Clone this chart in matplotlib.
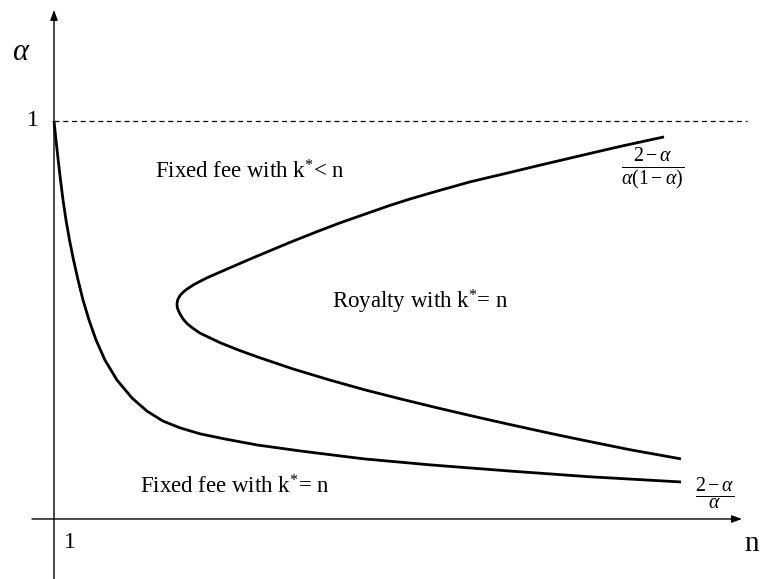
import matplotlib.pyplot as plt

plt.rcParams['mathtext.fontset'] = 'custom'
plt.rcParams['mathtext.rm'] = 'Liberation Serif'
plt.rcParams['mathtext.it'] = 'Liberation Serif:italic'
plt.rcParams['mathtext.cal'] = 'Liberation Serif'

# boundary n = (2 - a)/a  (lower curve, starts at n=1, alpha=1)
n_low = [1.0, 1.08, 1.168, 1.26, 1.36, 1.48, 1.62, 1.78, 1.96, 2.16, 2.4, 2.68,
         3.04, 3.52, 4.12, 4.72, 5.36, 6.04, 6.84, 7.84, 9.12, 10.84, 13.4,
         16.04, 19.12, 22.44, 26.08]
a_low = [1.0, 0.952, 0.902, 0.852, 0.802, 0.751, 0.701, 0.651, 0.601, 0.550,
         0.500, 0.450, 0.399, 0.349, 0.304, 0.271, 0.246, 0.229, 0.214, 0.201,
         0.186, 0.171, 0.151, 0.136, 0.121, 0.106, 0.093]

# boundary n = (2 - a)/(a(1 - a))  (the C-shaped curve, top end first)
n_up = [25.4, 23.64, 22.0, 20.44, 19.12, 17.64, 16.28, 15.24, 14.44, 13.44,
        12.44, 11.44, 10.44, 9.64, 8.84, 7.96, 7.12, 6.84, 6.6, 6.4, 6.24,
        6.12, 6.04, 5.98, 5.94, 5.92,
        5.932, 5.98, 6.06, 6.18, 6.34, 6.56, 6.84, 7.24, 7.68, 8.44, 9.24,
        10.56, 12.04, 13.4, 14.84, 16.28, 17.64, 19.12, 20.64, 22.0, 24.04,
        26.08]
a_up = [0.960, 0.936, 0.912, 0.889, 0.869, 0.847, 0.823, 0.804, 0.788, 0.766,
        0.744, 0.720, 0.695, 0.674, 0.653, 0.629, 0.606, 0.597, 0.589, 0.581,
        0.574, 0.567, 0.561, 0.555, 0.549, 0.540,
        0.531, 0.523, 0.513, 0.501, 0.490, 0.479, 0.467, 0.455, 0.442, 0.423,
        0.405, 0.377, 0.349, 0.325, 0.302, 0.280, 0.260, 0.239, 0.218, 0.200,
        0.174, 0.151]

fig = plt.figure(figsize=(7.61, 5.79), dpi=100)
ax = fig.add_axes([0, 0, 1, 1])
ax.set_xlim(-1.16, 29.28)
ax.set_ylim(-0.1508, 1.304)
ax.axis('off')

serif = 'Liberation Serif'

# axes with arrow heads
arr = dict(arrowstyle='-|>,head_length=0.6,head_width=0.22', lw=1.0,
           color='black', shrinkA=0, shrinkB=0, mutation_scale=10)
ax.annotate('', xy=(28.52, 0), xytext=(0.12, 0), arrowprops=arr)
ax.annotate('', xy=(1, 1.279), xytext=(1, -0.16), arrowprops=arr)

# alpha = 1 reference line
ax.plot([1, 28.72], [1, 1], color='black', lw=0.9, ls=(0, (4, 3)))

ax.plot(n_low, a_low, color='black', lw=2.0, solid_capstyle='butt',
        solid_joinstyle='round')
ax.plot(n_up, a_up, color='black', lw=2.0, solid_capstyle='butt',
        solid_joinstyle='round')

ax.text(0.16, 1.0, '1', family=serif, fontsize=17, ha='center', va='center')
ax.text(1.64, -0.06, '1', family=serif, fontsize=17, ha='center', va='center')
ax.text(28.9, -0.062, 'n', family=serif, fontsize=21, ha='center', va='center')
ax.text(-0.32, 1.175, r'$\alpha$', fontsize=22, ha='center', va='center')

ax.text(5.04, 0.872, r'Fixed fee with k$^{*}$< n', family=serif, fontsize=16.5,
        ha='left', va='center')
ax.text(12.12, 0.545, r'Royalty with k$^{*}$= n', family=serif, fontsize=16.5,
        ha='left', va='center')
ax.text(4.44, 0.08, r'Fixed fee with k$^{*}$= n', family=serif, fontsize=16.5,
        ha='left', va='center')

ax.text(24.96, 0.875, r'$\frac{2-\alpha}{\alpha(1-\alpha)}$', fontsize=20.5,
        ha='center', va='center')
ax.text(27.44, 0.063, r'$\frac{2-\alpha}{\alpha}$', fontsize=20.5,
        ha='center', va='center')

fig.savefig('out.png', dpi=100)
